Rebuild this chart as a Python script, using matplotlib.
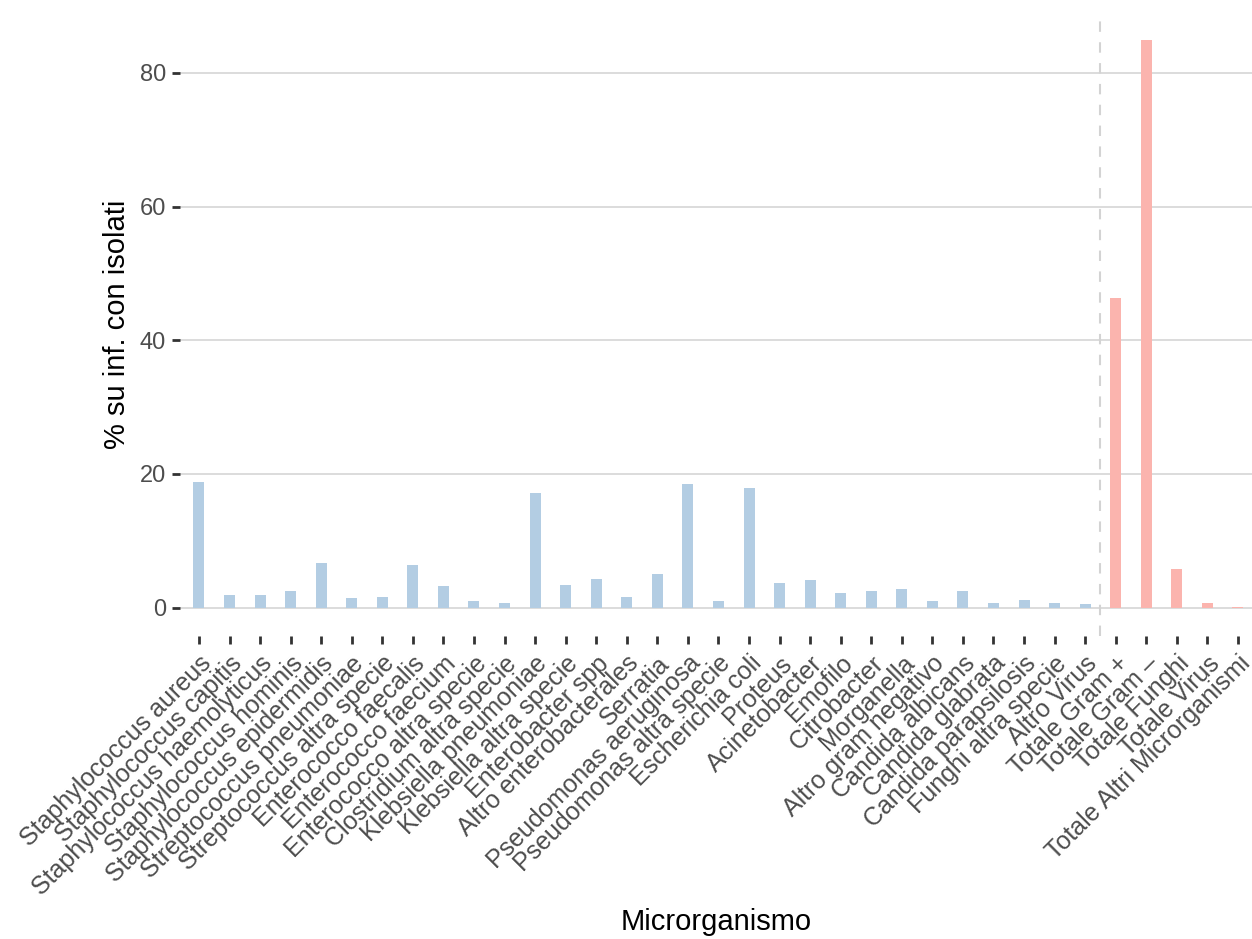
import matplotlib
matplotlib.use("Agg")
import matplotlib.pyplot as plt

# --- Data ---
categories = [
    "Staphylococcus aureus", "Staphylococcus capitis", "Staphylococcus haemolyticus",
    "Staphylococcus hominis", "Staphylococcus epidermidis", "Streptococcus pneumoniae",
    "Streptococcus altra specie", "Enterococco faecalis", "Enterococco faecium",
    "Enterococco altra specie", "Clostridium altra specie", "Klebsiella pneumoniae",
    "Klebsiella altra specie", "Enterobacter spp", "Altro enterobacterales", "Serratia",
    "Pseudomonas aeruginosa", "Pseudomonas altra specie", "Escherichia coli", "Proteus",
    "Acinetobacter", "Emofilo", "Citrobacter", "Morganella", "Altro gram negativo",
    "Candida albicans", "Candida glabrata", "Candida parapsilosis", "Funghi altra specie",
    "Altro Virus", "Totale Gram +", "Totale Gram \u2013", "Totale Funghi", "Totale Virus",
    "Totale Altri Microrganismi",
]
values = [
    18.8, 1.9, 1.9, 2.5, 6.7, 1.5, 1.65, 6.4, 3.25, 1.0,
    0.7, 17.15, 3.4, 4.3, 1.6, 5.0, 18.5, 1.0, 17.9, 3.7,
    4.15, 2.2, 2.5, 2.8, 1.0, 2.5, 0.7, 1.15, 0.7, 0.55,
    46.3, 84.9, 5.8, 0.7, 0.15,
]
is_total = [c.startswith("Totale") for c in categories]

# --- Style ---
BLUE = "#B3CDE3"
PINK = "#FBB4AE"
plt.rcParams["font.family"] = ["Liberation Sans", "DejaVu Sans"]

fig = plt.figure(figsize=(12.52, 9.39), dpi=100)
ax = fig.add_axes([180 / 1252, 1 - 636 / 939, 1 - 180 / 1252, (636 - 12) / 939])

x = list(range(len(categories)))
colors = [PINK if t else BLUE for t in is_total]
ax.bar(x, values, width=0.36, color=colors, zorder=2)

# separator between single organisms and totals
split = is_total.index(True) - 0.5
ax.axvline(split, color="#D3D3D3", lw=1.5, linestyle=(0, (5, 5)), zorder=1)

ax.set_xlim(-0.62, len(categories) - 0.54)
ax.set_ylim(-4.25, 89.1)
ax.set_yticks([0, 20, 40, 60, 80])
ax.yaxis.grid(True, color="#D9D9D9", lw=1.3, zorder=0)
ax.set_axisbelow(True)

for s in ax.spines.values():
    s.set_visible(False)

ax.set_xticks(x)
ax.set_xticklabels(categories, rotation=45, ha="right", va="top",
                   rotation_mode="anchor")
ax.tick_params(axis="both", colors="#333333", length=6, width=2,
               labelcolor="#4D4D4D", pad=4)
ax.tick_params(axis="x", labelsize=18, pad=5)
ax.tick_params(axis="y", labelsize=17)

ax.set_xlabel("Microrganismo", fontsize=21, color="black", labelpad=6)
ax.set_ylabel("% su inf. con isolati", fontsize=21, color="black", labelpad=6)

fig.savefig("out.png", dpi=100)
